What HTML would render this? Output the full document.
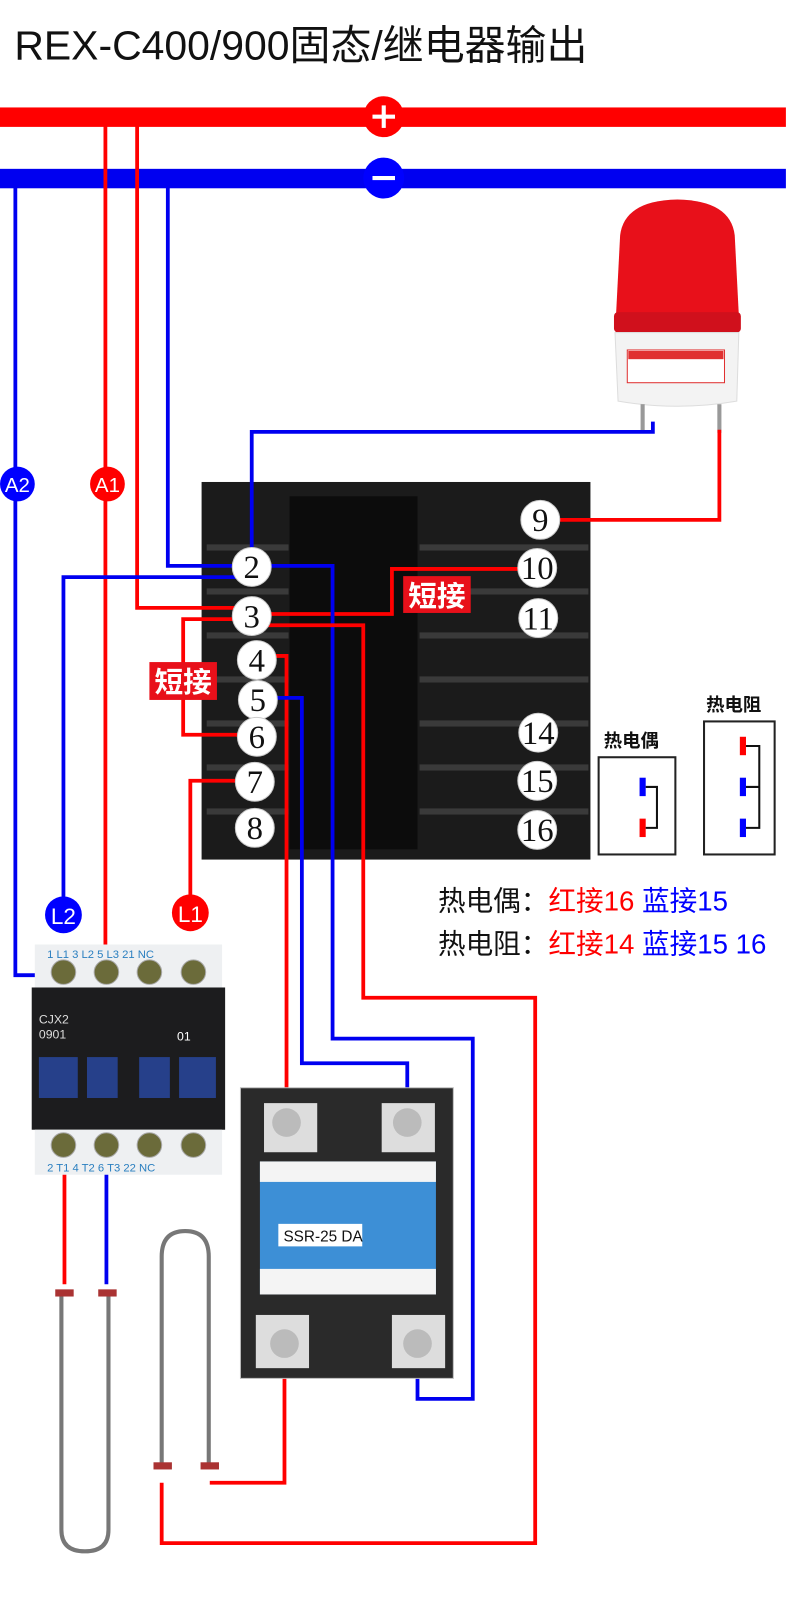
<!DOCTYPE html>
<html><head><meta charset="utf-8"><style>
html,body{margin:0;padding:0;background:#fff;}
svg{display:block;}
text{font-family:"Liberation Sans","Noto Sans CJK SC",sans-serif;}
.n{font-family:"Liberation Serif","Noto Serif CJK SC",serif;font-size:32px;text-anchor:middle;fill:#111;}
.c{font-size:11px;fill:#2a7fc0;}
</style></head><body>
<svg width="790" height="1597" viewBox="0 0 790 1597" xmlns="http://www.w3.org/2000/svg">
<g transform="scale(1.0233)">
<text x="14" y="58" font-size="40" fill="#111">REX-C400/900固态/继电器输出</text>
<!-- bus lines -->
<rect x="0" y="105" width="768" height="19" fill="#f00"/>
<rect x="0" y="165" width="768" height="19" fill="#0000f0"/>
<circle cx="375" cy="114" r="20" fill="#f00"/><rect x="364" y="112" width="22" height="4" fill="#fff"/><rect x="373" y="103" width="4" height="22" fill="#fff"/>
<circle cx="375" cy="174" r="20" fill="#00f"/><rect x="364" y="172" width="22" height="4" fill="#fff"/>
<!-- controller body -->
<rect x="197" y="471" width="380" height="369" fill="#1b1b1b"/>
<rect x="283" y="485" width="125" height="345" fill="#0c0c0c"/>
<g fill="#3a3a3a">
<rect x="202" y="532" width="80" height="6"/><rect x="202" y="575" width="80" height="6"/><rect x="202" y="618" width="80" height="6"/><rect x="202" y="661" width="80" height="6"/><rect x="202" y="704" width="80" height="6"/><rect x="202" y="747" width="80" height="6"/><rect x="202" y="790" width="80" height="6"/>
<rect x="410" y="532" width="165" height="6"/><rect x="410" y="575" width="165" height="6"/><rect x="410" y="618" width="165" height="6"/><rect x="410" y="661" width="165" height="6"/><rect x="410" y="704" width="165" height="6"/><rect x="410" y="747" width="165" height="6"/><rect x="410" y="790" width="165" height="6"/>
</g>
<!-- alarm light -->
<path d="M606 230 Q610 196 662 195 Q714 196 718 230 L722 308 L602 308 Z" fill="#e8101a"/>
<rect x="600" y="305" width="124" height="20" rx="4" fill="#d0101c"/>
<path d="M601 325 L722 325 L720 392 Q662 402 604 392 Z" fill="#f3f3f3" stroke="#ddd"/>
<rect x="613" y="342" width="95" height="32" fill="#fff" stroke="#e03030"/>
<rect x="614" y="343" width="93" height="8" fill="#e03030"/>
<rect x="626" y="395" width="4" height="28" fill="#999"/><rect x="701" y="395" width="4" height="28" fill="#999"/>
<!-- wires -->
<g fill="none" stroke-width="3.7">
<path d="M15 174 V953 H60" stroke="#0000f0"/>
<path d="M103 114 V950" stroke="#f00"/>
<path d="M134 114 V594 H240" stroke="#f00"/>
<path d="M164 174 V553 H240" stroke="#0000f0"/>
<path d="M246 553 V422 H638 V412" stroke="#0000f0"/>
<path d="M703 420 V508 H528" stroke="#f00"/>
<path d="M525 556 H383 V600 H252" stroke="#f00"/>
<path d="M252 553 H325 V1015 H462 V1367 H408 V1313" stroke="#0000f0"/>
<path d="M252 611 H355 V975 H523 V1508 H158 V1449" stroke="#f00"/>
<path d="M257 641 H280 V1095" stroke="#f00"/>
<path d="M258 682 H295 V1039 H398 V1095" stroke="#0000f0"/>
<path d="M240 605 H179 V718 H245" stroke="#f00"/>
<path d="M243 763 H186 V892" stroke="#f00"/>
<path d="M240 564 H62 V894" stroke="#0000f0"/>
<path d="M63 1119 V1255" stroke="#f00"/>
<path d="M104 1119 V1255" stroke="#0000f0"/>
<path d="M278 1313 V1449 H205" stroke="#f00"/>
</g>
<!-- terminals -->
<g fill="#fff" stroke="#ccc">
<circle cx="246" cy="554" r="19"/><circle cx="246" cy="602" r="19"/><circle cx="251" cy="645" r="19"/><circle cx="252" cy="684" r="19"/><circle cx="251" cy="720" r="19"/><circle cx="249" cy="764" r="19"/><circle cx="249" cy="809" r="19"/>
<circle cx="528" cy="508" r="19"/><circle cx="525" cy="555" r="19"/><circle cx="526" cy="604" r="19"/><circle cx="526" cy="716" r="19"/><circle cx="525" cy="763" r="19"/><circle cx="525" cy="811" r="19"/>
</g>
<text class="n" x="246" y="565">2</text><text class="n" x="246" y="613">3</text><text class="n" x="251" y="656">4</text><text class="n" x="252" y="695">5</text><text class="n" x="251" y="731">6</text><text class="n" x="249" y="775">7</text><text class="n" x="249" y="820">8</text>
<text class="n" x="528" y="519">9</text><text class="n" x="525" y="566">10</text><text class="n" x="526" y="615">11</text><text class="n" x="526" y="727">14</text><text class="n" x="525" y="774">15</text><text class="n" x="525" y="822">16</text>
<rect x="394" y="563" width="66" height="36" fill="#e8101a"/><text x="427" y="592" font-size="28" fill="#fff" text-anchor="middle" font-weight="bold">短接</text>
<rect x="146" y="647" width="66" height="37" fill="#e8101a"/><text x="179" y="676" font-size="28" fill="#fff" text-anchor="middle" font-weight="bold">短接</text>
<!-- labels -->
<circle cx="17" cy="473" r="17" fill="#00f"/><text x="17" y="481" font-size="20" fill="#fff" text-anchor="middle">A2</text>
<circle cx="105" cy="473" r="17" fill="#f00"/><text x="105" y="481" font-size="20" fill="#fff" text-anchor="middle">A1</text>
<circle cx="62" cy="894" r="18" fill="#00f"/><text x="62" y="903" font-size="22" fill="#fff" text-anchor="middle">L2</text>
<circle cx="186" cy="892" r="18" fill="#f00"/><text x="186" y="901" font-size="22" fill="#fff" text-anchor="middle">L1</text>
<!-- sensor boxes -->
<text x="590" y="730" font-size="18" font-weight="bold" fill="#111">热电偶</text>
<rect x="585" y="740" width="75" height="95" fill="#fff" stroke="#222" stroke-width="2"/>
<rect x="625" y="760" width="6" height="18" fill="#00f"/><rect x="625" y="800" width="6" height="18" fill="#f00"/>
<path d="M631 769 H642 V809 H631" fill="none" stroke="#111" stroke-width="2"/>
<text x="690" y="695" font-size="18" font-weight="bold" fill="#111">热电阻</text>
<rect x="688" y="705" width="69" height="130" fill="#fff" stroke="#222" stroke-width="2"/>
<rect x="723" y="720" width="6" height="18" fill="#f00"/><rect x="723" y="760" width="6" height="18" fill="#00f"/><rect x="723" y="800" width="6" height="18" fill="#00f"/>
<path d="M729 729 H742 V769 H729 M742 769 V809 H729" fill="none" stroke="#111" stroke-width="2"/>
<text x="428" y="890" font-size="27" fill="#111">热电偶：<tspan fill="#f00">红接16</tspan> <tspan fill="#00f">蓝接15</tspan></text>
<text x="428" y="932" font-size="27" fill="#111">热电阻：<tspan fill="#f00">红接14</tspan> <tspan fill="#00f">蓝接15 16</tspan></text>
<!-- contactor -->
<rect x="34" y="923" width="183" height="42" fill="#eef0f2"/>
<rect x="31" y="965" width="189" height="139" fill="#1c1c1e"/>
<rect x="34" y="1104" width="183" height="44" fill="#eef0f2"/>
<g fill="#26408a"><rect x="38" y="1033" width="38" height="40"/><rect x="85" y="1033" width="30" height="40"/><rect x="136" y="1033" width="30" height="40"/><rect x="175" y="1033" width="36" height="40"/></g>
<text x="38" y="1000" font-size="12" fill="#ddd">CJX2</text><text x="38" y="1015" font-size="12" fill="#ddd">0901</text><text x="173" y="1017" font-size="12" fill="#fff">01</text>
<text class="c" x="46" y="936">1   L1    3   L2    5   L3    21 NC</text>
<text class="c" x="46" y="1145">2   T1    4   T2    6   T3    22 NC</text>
<g fill="#6b6b3a" stroke="#aaa"><circle cx="62" cy="950" r="12"/><circle cx="104" cy="950" r="12"/><circle cx="146" cy="950" r="12"/><circle cx="189" cy="950" r="12"/><circle cx="62" cy="1119" r="12"/><circle cx="104" cy="1119" r="12"/><circle cx="146" cy="1119" r="12"/><circle cx="189" cy="1119" r="12"/></g>
<!-- SSR -->
<rect x="235" y="1063" width="208" height="284" fill="#2a2a2a" stroke="#bbb"/>
<rect x="254" y="1135" width="172" height="130" fill="#3d8fd6"/>
<rect x="254" y="1135" width="172" height="20" fill="#f4f4f4"/><rect x="254" y="1240" width="172" height="25" fill="#f4f4f4"/>
<rect x="272" y="1196" width="82" height="22" fill="#fff"/><text x="277" y="1213" font-size="15" fill="#111">SSR-25 DA</text>
<rect x="258" y="1078" width="52" height="48" fill="#ddd"/><rect x="373" y="1078" width="52" height="48" fill="#ddd"/>
<rect x="250" y="1285" width="52" height="52" fill="#ddd"/><rect x="383" y="1285" width="52" height="52" fill="#ddd"/>
<circle cx="280" cy="1097" r="14" fill="#bbb"/><circle cx="398" cy="1097" r="14" fill="#bbb"/><circle cx="278" cy="1313" r="14" fill="#bbb"/><circle cx="408" cy="1313" r="14" fill="#bbb"/>
<!-- heaters -->
<g fill="none" stroke="#777" stroke-width="4">
<path d="M60 1265 V1495 Q60 1516 83 1516 Q106 1516 106 1495 V1265"/>
<path d="M158 1432 V1228 Q158 1203 181 1203 Q204 1203 204 1228 V1432"/>
</g>
<g fill="#a33"><rect x="54" y="1260" width="18" height="7"/><rect x="96" y="1260" width="18" height="7"/><rect x="150" y="1429" width="18" height="7"/><rect x="196" y="1429" width="18" height="7"/></g>
</g>
</svg>
</body></html>
